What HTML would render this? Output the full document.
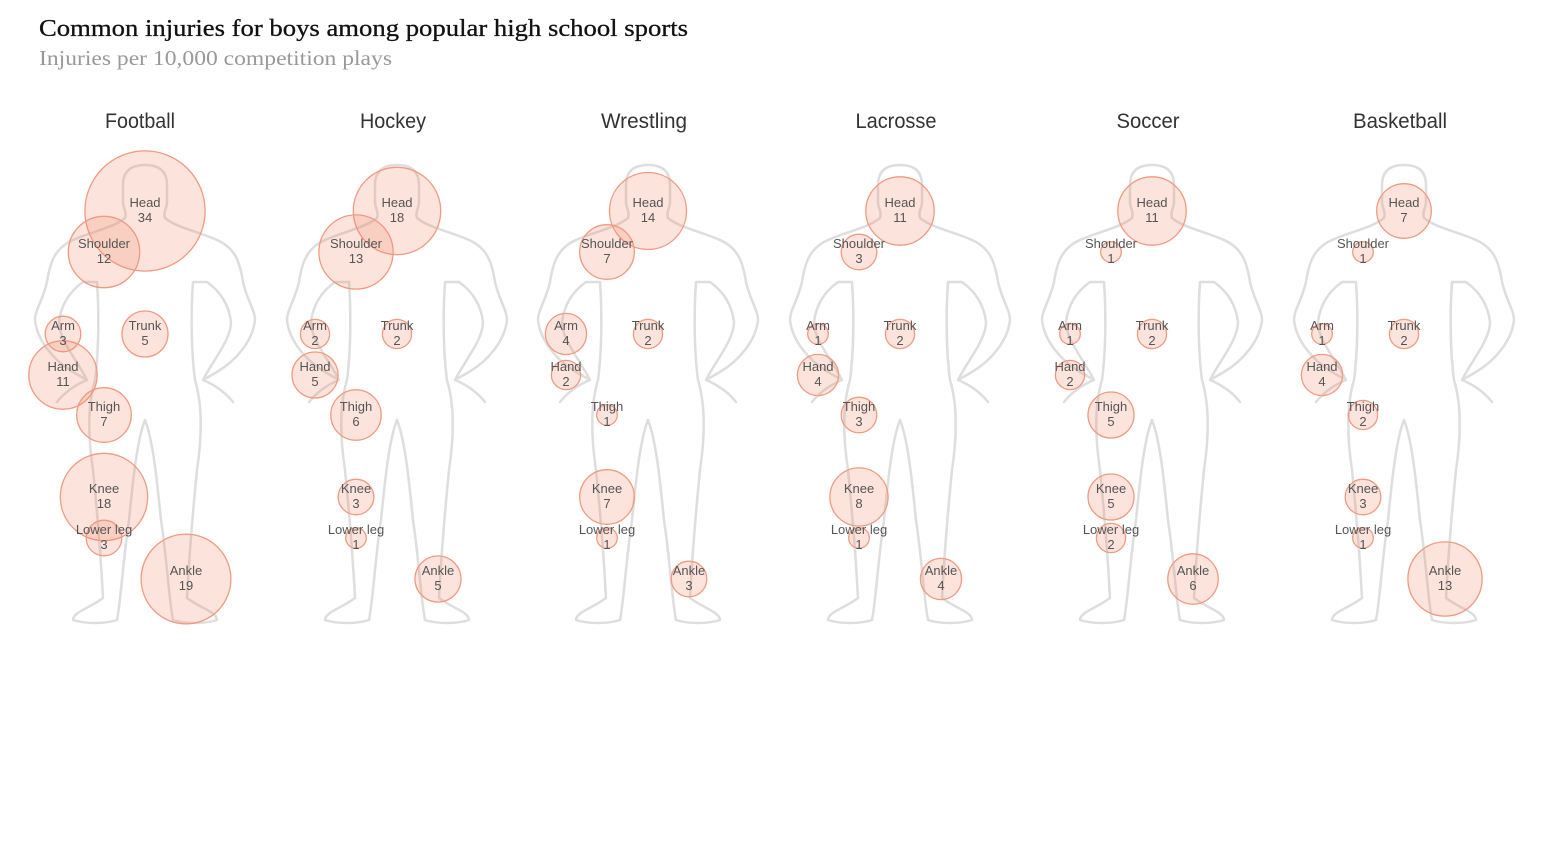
<!DOCTYPE html>
<html><head><meta charset="utf-8"><style>
html,body{margin:0;padding:0;background:#fff;width:1542px;height:853px;overflow:hidden}
</style></head><body>
<svg id="s" width="1542" height="853" xmlns="http://www.w3.org/2000/svg">
<text x="39" y="36" font-family="Liberation Serif, serif" font-size="24" fill="#111" stroke="#111" stroke-width="0.3" textLength="649" lengthAdjust="spacingAndGlyphs">Common injuries for boys among popular high school sports</text>
<text x="39" y="65" font-family="Liberation Serif, serif" font-size="21" fill="#999" textLength="353" lengthAdjust="spacingAndGlyphs">Injuries per 10,000 competition plays</text>
<defs>
<path id="half" d="M0,165 C15,165 22,172 22,185 L22,202 C22,208 18,212 20,218 C32,228 55,232 72,240 C90,248 95,262 98,282 C102,300 110,310 110,320 C108,340 92,360 72,372 L58,380 C70,385 80,392 88,402 M58,380 C68,360 86,340 86,322 C84,305 76,292 62,282 L48,282 C46,310 46,350 50,380 C56,400 58,430 52,470 C48,510 44,560 42,598 C55,608 72,612 72,620 C60,624 40,624 28,620 C24,600 22,560 16,520 C12,480 8,440 0,420"/>
<g id="body" fill="none" stroke="#dedede" stroke-width="2.5" stroke-linejoin="round" stroke-linecap="round">
<use href="#half"/><use href="#half" transform="scale(-1,1)"/>
</g>
</defs>
<g id="panels"></g>
</svg>
<script>
var sports=[["Football",145,[34,12,3,5,11,7,18,3,19],70,140],["Hockey",397,[18,13,2,2,5,6,3,1,5],66,393],["Wrestling",648,[14,7,4,2,2,1,7,1,3],86,644],["Lacrosse",900,[11,3,1,2,4,3,8,1,4],81,896],["Soccer",1152,[11,1,1,2,2,5,5,2,6],63,1148],["Basketball",1404,[7,1,1,2,4,2,3,1,13],94,1400]];
var parts=[["Head",0,211],["Shoulder",-41,252],["Arm",-82,334],["Trunk",0,334],["Hand",-82,375],["Thigh",-41,415],["Knee",-41,497],["Lower leg",-41,538],["Ankle",41,579]];
var h='';
sports.forEach(function(s){
 var cx=s[1];
 h+='<text x="'+s[4]+'" y="128" text-anchor="middle" font-family="Liberation Sans, sans-serif" font-size="21" fill="#333" textLength="'+s[3]+'" lengthAdjust="spacingAndGlyphs">'+s[0]+'</text>';
 h+='<use href="#body" transform="translate('+cx+',0)"/>';
 parts.forEach(function(p,i){var v=s[2][i],r=10.3*Math.sqrt(v),x=cx+p[1],y=p[2];
  h+='<circle cx="'+x+'" cy="'+y+'" r="'+r.toFixed(1)+'" fill="rgba(242,130,100,0.22)" stroke="#f09a80" stroke-width="1.3"/>';});
 parts.forEach(function(p,i){var v=s[2][i],x=cx+p[1],y=p[2];
  h+='<text x="'+x+'" y="'+(y-4)+'" text-anchor="middle" font-family="Liberation Sans, sans-serif" font-size="13" fill="#555">'+p[0]+'</text>';
  h+='<text x="'+x+'" y="'+(y+11)+'" text-anchor="middle" font-family="Liberation Sans, sans-serif" font-size="13" fill="#555">'+v+'</text>';});
});
document.getElementById('panels').innerHTML=h;
</script>
</body></html>
